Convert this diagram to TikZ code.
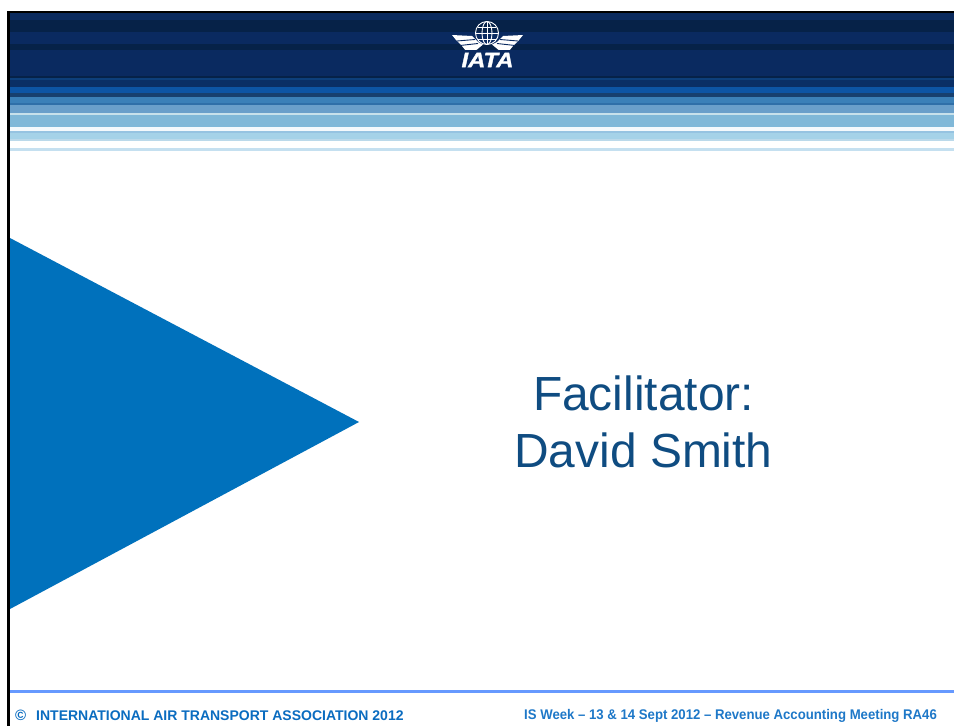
\documentclass[tikz,border=0pt]{standalone}
\usepackage{graphicx}
\usepackage{fontspec}
\setmainfont{Liberation Sans}
\definecolor{titleblue}{HTML}{0F4C81}
\definecolor{triblue}{HTML}{0071BC}
\definecolor{rulec}{HTML}{6699FF}
\definecolor{foota}{HTML}{0A6CC0}
\definecolor{footb}{HTML}{1E78C8}
\definecolor{navy}{HTML}{0A2A60}
\tikzset{
  px/.style={x=1pt,y=-1pt},
  footertext/.style={anchor=west,inner sep=0pt,font=\fontsize{14}{16}\selectfont\bfseries},
  titletext/.style={align=center,inner sep=0pt,text=titleblue,font=\fontsize{47.9}{57}\selectfont},
  wing/.style={fill=white,draw=none},
  feather/.style={draw=navy,line width=.9pt},
}
\newcommand{\stripe}[3]{\definecolor{stripec}{HTML}{#3}\fill[stripec] (9,#1) rectangle (954,#2);}
\begin{document}
\begin{tikzpicture}[px]
\useasboundingbox (0,0) rectangle (954,726);
\fill[white] (0,0) rectangle (954,726);
% header stripes
\stripe{13}{20}{0A2A5E}
\stripe{20}{32}{062248}
\stripe{32}{44}{0A2A60}
\stripe{44}{50}{062248}
\stripe{50}{76}{0A2A60}
\stripe{76}{78}{062248}
\stripe{78}{80}{0D3F7A}
\stripe{80}{87}{0A2F66}
\stripe{87}{93}{0D55A5}
\stripe{93}{97}{17406F}
\stripe{97}{103}{3B80B8}
\stripe{103}{105}{2F6FA8}
\stripe{105}{113}{6A9FCA}
\stripe{113}{115}{C8E1EB}
\stripe{115}{127}{80B8D8}
\stripe{127}{131}{F4F9FC}
\stripe{131}{133}{96C3E1}
\stripe{133}{139}{A5D2E8}
\stripe{139}{141}{BBD9EA}
\stripe{141}{148}{FFFFFF}
\stripe{148}{151}{C5E0F0}
% frame
\fill[black] (7,11) rectangle (954,13);
\fill[black] (7,11) rectangle (10,726);
% logo: globe
\begin{scope}[draw=white,line width=.9pt]
  \draw (487,33) circle (11.5);
  \draw (487,33) ellipse (5 and 11.5);
  \draw (487,22) -- (487,44);
  \draw (476,33) -- (498,33);
  \draw (478,27) -- (496,27);
  \draw (478,39) -- (496,39);
\end{scope}
% logo: wings
\fill[wing] (452,35) -- (472,36) -- (478,42) -- (483,44.5) -- (474,52) -- (466,51) -- (462,46) -- (456,40) -- cycle;
\fill[wing] (523,35) -- (503,36) -- (497,42) -- (492,44.5) -- (501,52) -- (509,51) -- (513,46) -- (519,40) -- cycle;
\draw[feather] (457,41) -- (475,39.5) (460,45.5) -- (478,43.5);
\draw[feather] (518,41) -- (500,39.5) (515,45.5) -- (497,43.5);
\fill[navy] (455,50) rectangle (520,53);
\node[inner sep=0pt,text=white,font=\fontsize{21}{21}\selectfont\bfseries\itshape\addfontfeature{FakeBold=1.5}] (logotext) at (487.5,60) {\scalebox{1.13}[1]{IATA}};
% triangle
\fill[triblue] (10,238) -- (359,422) -- (10,609) -- cycle;
% title
\node[titletext] (title) at (643.5,422) {Facilitator:\\David Smith};
% footer
\fill[rulec] (10,690) rectangle (954,693);
\node[footertext,text=foota,font=\fontsize{15}{15}\selectfont\bfseries] (copy) at (15,715.5) {©};
\node[footertext,text=foota] (org) at (36,715.5) {INTERNATIONAL AIR TRANSPORT ASSOCIATION 2012};
\node[footertext,text=footb] (event) at (524,715.5) {\scalebox{.941}[1]{IS Week – 13 \& 14 Sept 2012 – Revenue Accounting Meeting RA46}};
\end{tikzpicture}
\end{document}
